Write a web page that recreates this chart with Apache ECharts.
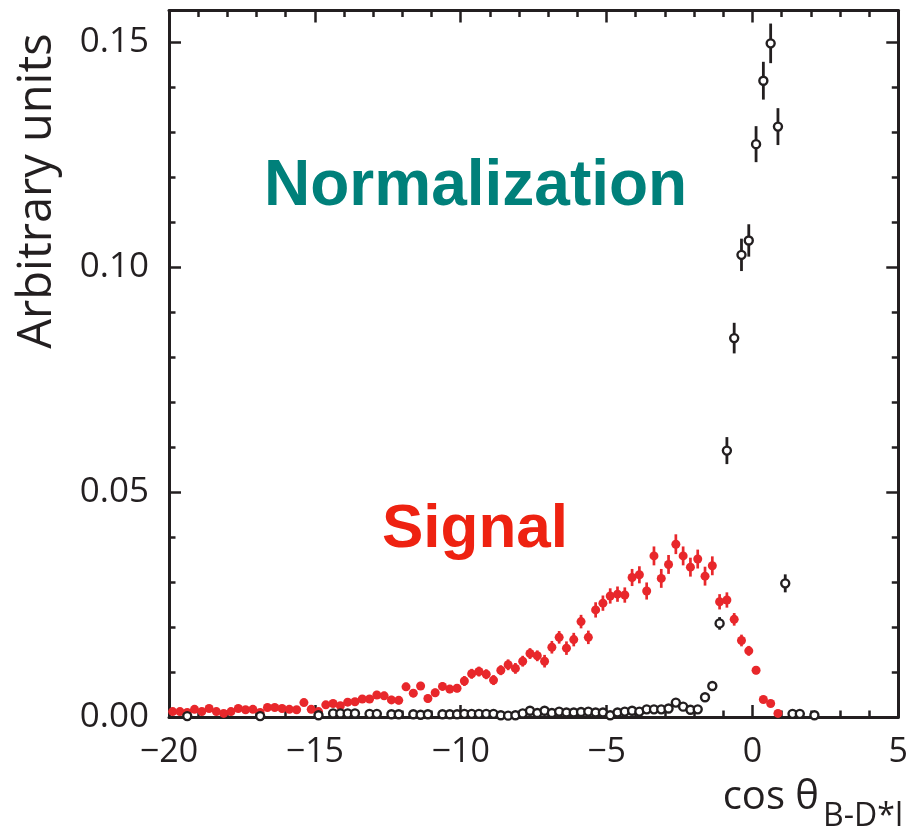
<!DOCTYPE html>
<html><head><meta charset="utf-8">
<script src="https://cdn.jsdelivr.net/npm/echarts@6/dist/echarts.min.js"></script>
<style>html,body{margin:0;padding:0;background:#fff}#c{width:911px;height:833px}</style>
</head><body><div id="c"></div>
<script>
// Binning: 0.25 wide bins starting at -20 (bin i centre = -20 + (i+0.5)*0.25)
const binStart = -20;
const binWidth = 0.25;
const xTicks = [-20, -15, -10, -5, 0, 5];
const yTicks = [0.00, 0.05, 0.10, 0.15];

// Signal (red, filled) values per bin, starting at first bin
const signalY = [
  0.0012, 0.0012, 0.0010, 0.0017, 0.0012, 0.0019, 0.0012, 0.0008, 0.0012, 0.0019,
  0.0016, 0.0017, 0.0010, 0.0021, 0.0021, 0.0019, 0.0017, 0.0016, 0.0032, 0.0017,
  0.0012, 0.0027, 0.0030, 0.0025, 0.0033, 0.0034, 0.0040, 0.0040, 0.0049, 0.0047,
  0.0038, 0.0037, 0.0067, 0.0053, 0.0069, 0.0041, 0.0054, 0.0068, 0.0062, 0.0064,
  0.0080, 0.0096, 0.0101, 0.0095, 0.0082, 0.0104, 0.0116, 0.0108, 0.0124, 0.0141,
  0.0136, 0.0124, 0.0155, 0.0177, 0.0153, 0.0172, 0.0212, 0.0177, 0.0238, 0.0253,
  0.0269, 0.0273, 0.0271, 0.0310, 0.0316, 0.0280, 0.0358, 0.0308, 0.0339, 0.0384,
  0.0358, 0.0333, 0.0351, 0.0313, 0.0336, 0.0256, 0.0260, 0.0217, 0.0170, 0.0147,
  0.0104, 0.0039, 0.0030, 0.0008
];
const signalErr = [
  0.0006, 0.0006, 0.0006, 0.0006, 0.0006, 0.0006, 0.0006, 0.0006, 0.0006, 0.0006,
  0.0006, 0.0006, 0.0006, 0.0006, 0.0006, 0.0006, 0.0006, 0.0006, 0.0006, 0.0006,
  0.0006, 0.0006, 0.0006, 0.0006, 0.0006, 0.0006, 0.0006, 0.0006, 0.0009, 0.0009,
  0.0009, 0.0009, 0.0009, 0.0009, 0.0009, 0.0009, 0.0009, 0.0009, 0.0009, 0.0009,
  0.0011, 0.0011, 0.0011, 0.0011, 0.0011, 0.0011, 0.0012, 0.0012, 0.0012, 0.0012,
  0.0012, 0.0014, 0.0014, 0.0014, 0.0015, 0.0015, 0.0015, 0.0015, 0.0017, 0.0017,
  0.0017, 0.0017, 0.0017, 0.0019, 0.0019, 0.0019, 0.0021, 0.0021, 0.0021, 0.0022,
  0.0021, 0.0021, 0.0021, 0.0021, 0.0021, 0.0017, 0.0017, 0.0014, 0.0013, 0.0011,
  0.0009, 0.0006, 0.0006, 0.0006
];

// Normalization (black, open) values per bin, null = empty bin
const normY = [
  null, null, 0.0002, null, null, null, null, null, null, null,
  null, null, 0.0002, null, null, null, null, null, null, null,
  0.0004, null, 0.0008, 0.0008, 0.0008, 0.0008, null, 0.0007, 0.0007, null,
  0.0006, 0.0006, null, 0.0006, 0.0005, 0.0006, null, 0.0006, 0.0006, 0.0006,
  0.0007, 0.0007, 0.0007, 0.0007, 0.0007, 0.0004, 0.0003, 0.0004, 0.0008, 0.0014,
  0.0009, 0.0014, 0.0009, 0.0012, 0.0010, 0.0010, 0.0011, 0.0012, 0.0010, 0.0010,
  0.0004, 0.0010, 0.0012, 0.0014, 0.0012, 0.0017, 0.0017, 0.0017, 0.0019, 0.0032,
  0.0023, 0.0016, 0.0017, 0.0044, 0.0069, 0.0208, 0.0592, 0.0842, 0.1027, 0.1059,
  0.1273, 0.1414, 0.1497, 0.1312, 0.0297, 0.0007, 0.0007, null, 0.0004
];
const normErr = [
  null, null, 0.0003, null, null, null, null, null, null, null,
  null, null, 0.0003, null, null, null, null, null, null, null,
  0.0003, null, 0.0003, 0.0003, 0.0003, 0.0003, null, 0.0003, 0.0003, null,
  0.0003, 0.0003, null, 0.0003, 0.0003, 0.0003, null, 0.0003, 0.0003, 0.0003,
  0.0003, 0.0003, 0.0003, 0.0003, 0.0003, 0.0003, 0.0003, 0.0003, 0.0003, 0.0003,
  0.0003, 0.0003, 0.0003, 0.0003, 0.0003, 0.0003, 0.0003, 0.0003, 0.0003, 0.0003,
  0.0003, 0.0003, 0.0003, 0.0003, 0.0003, 0.0004, 0.0004, 0.0004, 0.0004, 0.0005,
  0.0004, 0.0004, 0.0004, 0.0006, 0.0008, 0.0014, 0.0030, 0.0034, 0.0036, 0.0036,
  0.0040, 0.0042, 0.0044, 0.0041, 0.0020, 0.0003, 0.0003, null, 0.0003
];

const xMin = xTicks[0], xMax = xTicks[xTicks.length - 1];
const yMin = yTicks[0], yMax = 0.157;
const INK = '#231f20';
const RED = '#e8272b';

function centre(i) { return binStart + (i + 0.5) * binWidth; }
function build(vals, errs) {
  const pts = [], bars = [];
  vals.forEach((v, i) => {
    if (v === null) return;
    pts.push([centre(i), v]);
    bars.push([centre(i), v, errs[i]]);
  });
  return { pts, bars };
}
const sig = build(signalY, signalErr);
const nor = build(normY, normErr);

function errRender(color, width) {
  return function (params, api) {
    const x = api.value(0), y = api.value(1), e = api.value(2);
    const p1 = api.coord([x, Math.max(yMin, y - e)]);
    const p2 = api.coord([x, y + e]);
    return { type: 'line', shape: { x1: p1[0], y1: p1[1], x2: p2[0], y2: p2[1] },
             style: { stroke: color, lineWidth: width } };
  };
}

const FONT = 'Open Sans';
const labelFmtX = v => String(v).replace('-', '\u2212');
const labelFmtY = v => {
  const k = v / 0.05;
  return Math.abs(k - Math.round(k)) < 1e-6 ? v.toFixed(2) : '';
};

function xAxisDef(pos, showLabel) {
  return {
    type: 'value', position: pos, min: xMin, max: xMax, interval: 5,
    axisLine: { show: true, onZero: false, lineStyle: { color: INK, width: 3 } },
    axisTick: { show: true, inside: true, length: 12, lineStyle: { color: INK, width: 2.5 } },
    minorTick: { show: true, splitNumber: 5, length: 6.5, lineStyle: { color: INK, width: 2.5 } },
    axisLabel: { show: showLabel, margin: 18, color: INK, fontFamily: FONT, fontSize: 34, formatter: labelFmtX },
    splitLine: { show: false }
  };
}
function yAxisDef(pos, interval, len, showLine, showLabel) {
  return {
    type: 'value', position: pos, min: yMin, max: yMax, interval: interval,
    axisLine: { show: showLine, onZero: false, lineStyle: { color: INK, width: 3 } },
    axisTick: { show: true, inside: true, length: len, lineStyle: { color: INK, width: 2.5 } },
    axisLabel: { show: showLabel, margin: 20, color: INK, fontFamily: FONT, fontSize: 35, formatter: labelFmtY,
                 showMaxLabel: false },
    splitLine: { show: false }
  };
}

const chart = echarts.init(document.getElementById('c'), null, { renderer: 'canvas' });
chart.setOption({
  animation: false,
  backgroundColor: '#fff',
  grid: { left: 169, top: 10.5, width: 733, height: 706.5, show: false },
  xAxis: [xAxisDef('bottom', true), xAxisDef('top', false)],
  yAxis: [
    yAxisDef('left', 0.05, 12, true, true),
    yAxisDef('left', 0.01, 6.5, false, false),
    yAxisDef('right', 0.05, 12, true, false),
    yAxisDef('right', 0.01, 6.5, false, false)
  ],
  series: [
    { type: 'custom', xAxisIndex: 0, yAxisIndex: 0, z: 2, data: sig.bars,
      encode: { x: 0, y: 1 }, renderItem: errRender(RED, 2.7), silent: true },
    { type: 'scatter', xAxisIndex: 0, yAxisIndex: 0, z: 3, data: sig.pts, symbol: 'circle', symbolSize: 9,
      itemStyle: { color: RED, opacity: 1 }, silent: true },
    { type: 'custom', xAxisIndex: 0, yAxisIndex: 0, z: 4, data: nor.bars,
      encode: { x: 0, y: 1 }, renderItem: errRender(INK, 2.8), silent: true },
    { type: 'scatter', xAxisIndex: 0, yAxisIndex: 0, z: 5, data: nor.pts, symbol: 'circle', symbolSize: 8,
      itemStyle: { color: '#ffffff', borderColor: INK, borderWidth: 2.4, opacity: 1 }, silent: true }
  ],
  graphic: [
    { type: 'text', left: 264, top: 155, z: 10,
      style: { text: 'Normalization', fill: '#00807a', font: 'bold 64px "Liberation Sans", Arial, sans-serif' } },
    { type: 'text', left: 382, top: 499, z: 10,
      style: { text: 'Signal', fill: '#ee2211', font: 'bold 62px "Liberation Sans", Arial, sans-serif' } },
    { type: 'text', x: 38, y: 191, rotation: Math.PI / 2, z: 10,
      style: { text: 'Arbitrary units', fill: INK, font: '47px "Open Sans"', align: 'center', verticalAlign: 'middle' } },
    { type: 'text', right: 92, top: 778, z: 10,
      style: { text: 'cos \u03b8', fill: INK, font: '40px "Open Sans"' } },
    { type: 'text', right: 8, top: 801, z: 10,
      style: { text: 'B-D*l', fill: INK, font: '32px "Open Sans"' } }
  ]
});
</script>
</body></html>
